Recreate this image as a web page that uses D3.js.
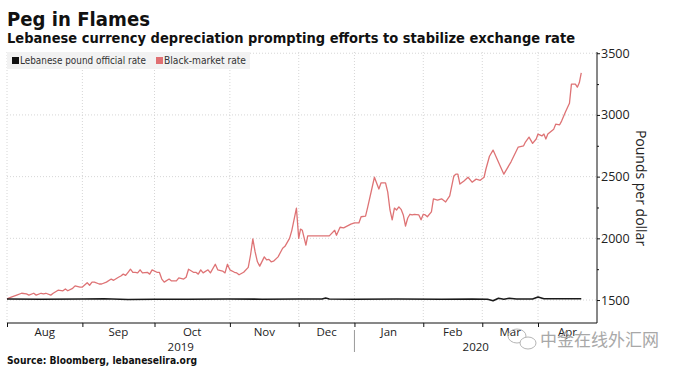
<!DOCTYPE html>
<html>
<head>
<meta charset="utf-8">
<script src="https://cdn.jsdelivr.net/npm/d3@7"></script>
<style>
  body { margin: 0; background: #fff; }
  svg { display: block; }
  .grid line { stroke: #d6d6d6; stroke-dasharray: 1,2; }
  .axis text { font-family: "Open Sans", "DejaVu Sans", sans-serif; fill: #222; }
</style>
</head>
<body>
<script>
var months = ["Aug", "Sep", "Oct", "Nov", "Dec", "Jan", "Feb", "Mar", "Apr"];
var monthStarts = ["2019-08-01", "2019-09-01", "2019-10-01", "2019-11-01", "2019-12-01",
  "2020-01-01", "2020-02-01", "2020-03-01", "2020-04-01", "2020-05-01"];
// observations per month (the chart is spaced by trading days)
var obsPerMonth = [23, 22, 23, 21, 17, 21, 18, 17, 18];
var years = ["2019", "2020"];
var yTicks = [1500, 2000, 2500, 3000, 3500];

var officialRate = [
  ["2019-08-01", 1508], ["2019-08-15", 1506], ["2019-09-01", 1509], ["2019-09-10", 1511],
  ["2019-09-20", 1504], ["2019-10-01", 1507], ["2019-10-15", 1507], ["2019-10-31", 1509],
  ["2019-11-15", 1507], ["2019-12-01", 1509], ["2019-12-14", 1508], ["2019-12-16", 1516],
  ["2019-12-18", 1508], ["2020-01-01", 1507], ["2020-01-20", 1509], ["2020-02-10", 1507],
  ["2020-02-25", 1509], ["2020-03-04", 1506], ["2020-03-07", 1494], ["2020-03-10", 1514],
  ["2020-03-13", 1507], ["2020-03-16", 1515], ["2020-03-20", 1509], ["2020-03-29", 1508],
  ["2020-04-01", 1524], ["2020-04-04", 1510], ["2020-04-23", 1510]
];

var blackMarket = [
  ["2019-08-01", 1510], ["2019-08-03", 1525], ["2019-08-05", 1540], ["2019-08-07", 1555],
  ["2019-08-09", 1550], ["2019-08-10", 1540], ["2019-08-12", 1555], ["2019-08-13", 1540],
  ["2019-08-15", 1555], ["2019-08-16", 1550], ["2019-08-17", 1555], ["2019-08-19", 1540],
  ["2019-08-20", 1555], ["2019-08-22", 1580], ["2019-08-24", 1575], ["2019-08-25", 1590],
  ["2019-08-26", 1575], ["2019-08-28", 1595], ["2019-08-29", 1615], ["2019-08-31", 1605],
  ["2019-09-01", 1605], ["2019-09-03", 1640], ["2019-09-04", 1620], ["2019-09-05", 1645],
  ["2019-09-06", 1645], ["2019-09-08", 1630], ["2019-09-09", 1630], ["2019-09-11", 1645],
  ["2019-09-13", 1670], ["2019-09-14", 1660], ["2019-09-16", 1685], ["2019-09-17", 1695],
  ["2019-09-18", 1710], ["2019-09-19", 1700], ["2019-09-20", 1725], ["2019-09-21", 1750],
  ["2019-09-22", 1725], ["2019-09-23", 1725], ["2019-09-24", 1720], ["2019-09-25", 1745],
  ["2019-09-26", 1720], ["2019-09-28", 1725], ["2019-09-29", 1710], ["2019-09-30", 1745],
  ["2019-10-02", 1725], ["2019-10-03", 1725], ["2019-10-04", 1670], ["2019-10-05", 1645],
  ["2019-10-07", 1670], ["2019-10-08", 1655], ["2019-10-10", 1655], ["2019-10-11", 1680],
  ["2019-10-13", 1670], ["2019-10-14", 1685], ["2019-10-15", 1750], ["2019-10-17", 1725],
  ["2019-10-18", 1725], ["2019-10-19", 1710], ["2019-10-20", 1745], ["2019-10-21", 1720],
  ["2019-10-23", 1745], ["2019-10-24", 1720], ["2019-10-26", 1790], ["2019-10-27", 1745],
  ["2019-10-29", 1735], ["2019-10-30", 1720], ["2019-10-31", 1790], ["2019-11-01", 1745],
  ["2019-11-03", 1725], ["2019-11-04", 1720], ["2019-11-05", 1705], ["2019-11-07", 1725],
  ["2019-11-09", 1765], ["2019-11-10", 1865], ["2019-11-11", 1995], ["2019-11-12", 1890],
  ["2019-11-13", 1810], ["2019-11-14", 1775], ["2019-11-16", 1850], ["2019-11-17", 1825],
  ["2019-11-18", 1830], ["2019-11-19", 1810], ["2019-11-20", 1815], ["2019-11-22", 1850],
  ["2019-11-24", 1920], ["2019-11-25", 1935], ["2019-11-27", 2000], ["2019-11-28", 2065],
  ["2019-11-30", 2245], ["2019-12-01", 2000], ["2019-12-02", 2075], ["2019-12-03", 2065],
  ["2019-12-05", 1945], ["2019-12-06", 2020], ["2019-12-08", 2020], ["2019-12-18", 2020],
  ["2019-12-21", 2065], ["2019-12-22", 2025], ["2019-12-24", 2090], ["2019-12-26", 2085],
  ["2019-12-30", 2115], ["2020-01-01", 2125], ["2020-01-03", 2125], ["2020-01-04", 2175],
  ["2020-01-06", 2180], ["2020-01-07", 2255], ["2020-01-10", 2495], ["2020-01-12", 2400],
  ["2020-01-13", 2450], ["2020-01-15", 2450], ["2020-01-16", 2375], ["2020-01-17", 2230],
  ["2020-01-18", 2150], ["2020-01-19", 2245], ["2020-01-20", 2230], ["2020-01-21", 2255],
  ["2020-01-22", 2235], ["2020-01-23", 2190], ["2020-01-24", 2100], ["2020-01-25", 2165],
  ["2020-01-26", 2195], ["2020-01-27", 2190], ["2020-01-28", 2195], ["2020-01-30", 2190],
  ["2020-01-31", 2150], ["2020-02-01", 2195], ["2020-02-02", 2190], ["2020-02-03", 2175],
  ["2020-02-05", 2215], ["2020-02-06", 2320], ["2020-02-08", 2310], ["2020-02-10", 2320],
  ["2020-02-12", 2295], ["2020-02-14", 2345], ["2020-02-16", 2505], ["2020-02-17", 2520],
  ["2020-02-18", 2520], ["2020-02-19", 2440], ["2020-02-21", 2465], ["2020-02-23", 2495],
  ["2020-02-25", 2455], ["2020-02-27", 2480], ["2020-02-29", 2470], ["2020-03-02", 2495],
  ["2020-03-03", 2560], ["2020-03-05", 2665], ["2020-03-07", 2715], ["2020-03-13", 2520],
  ["2020-03-17", 2620], ["2020-03-21", 2740], ["2020-03-24", 2750], ["2020-03-25", 2780],
  ["2020-03-27", 2820], ["2020-03-29", 2770], ["2020-03-31", 2805], ["2020-04-01", 2845],
  ["2020-04-03", 2830], ["2020-04-04", 2845], ["2020-04-05", 2805], ["2020-04-06", 2845],
  ["2020-04-09", 2885], ["2020-04-10", 2925], ["2020-04-12", 2920], ["2020-04-13", 2950],
  ["2020-04-15", 3025], ["2020-04-17", 3095], ["2020-04-18", 3250], ["2020-04-20", 3250],
  ["2020-04-21", 3225], ["2020-04-22", 3260], ["2020-04-23", 3340]
];

var W = 680, H = 368;
var margin = { top: 52, right: 83, bottom: 45, left: 7 },
  width = W - margin.left - margin.right,
  height = H - margin.top - margin.bottom;

var parseDate = d3.timeParse("%Y-%m-%d");
var bounds = monthStarts.map(parseDate);
var official = officialRate.map(function (d) { return { date: parseDate(d[0]), value: d[1] }; });
var black = blackMarket.map(function (d) { return { date: parseDate(d[0]), value: d[1] }; });

// piecewise time scale: each month gets room for its observations
var cum = [0];
obsPerMonth.forEach(function (n) { cum.push(cum[cum.length - 1] + n); });
var obsScale = d3.scaleLinear().domain([0, cum[cum.length - 1]]).range([0, width]);
var x = d3.scaleTime().domain(bounds).range(cum.map(obsScale));
var y = d3.scaleLinear().domain([1314, 3510]).range([height, 0]);

var svg = d3.select("body").append("svg")
  .attr("width", W)
  .attr("height", H);

// fit a text element into a given width by squeezing glyphs
function fit(sel, w) {
  var len = sel.node().getComputedTextLength();
  if (len > w) sel.attr("textLength", w).attr("lengthAdjust", "spacingAndGlyphs");
}

svg.append("text")
  .attr("x", 7).attr("y", 26)
  .style("font-family", "DejaVu Sans, sans-serif")
  .style("font-weight", "bold")
  .style("font-size", "19px")
  .style("fill", "#111")
  .text("Peg in Flames")
  .call(fit, 143);

svg.append("text")
  .attr("x", 7).attr("y", 43)
  .style("font-family", "DejaVu Sans, sans-serif")
  .style("font-weight", "bold")
  .style("font-size", "14px")
  .style("fill", "#111")
  .text("Lebanese currency depreciation prompting efforts to stabilize exchange rate")
  .call(fit, 568);

var g = svg.append("g")
  .attr("transform", "translate(" + margin.left + "," + margin.top + ")");

// grid
g.append("g").attr("class", "grid")
  .selectAll("line.h")
  .data(yTicks)
  .join("line")
  .attr("x1", 0).attr("x2", width)
  .attr("y1", function (d) { return y(d); })
  .attr("y2", function (d) { return y(d); });

g.append("g").attr("class", "grid")
  .selectAll("line.v")
  .data(bounds.slice(0, -1))
  .join("line")
  .attr("x1", function (d) { return x(d); })
  .attr("x2", function (d) { return x(d); })
  .attr("y1", 0).attr("y2", height);

// legend
var legend = g.append("g");
legend.append("rect")
  .attr("x", 0).attr("y", 0)
  .attr("width", 243).attr("height", 17)
  .attr("fill", "#f2f2f2");
var legendItems = [
  { label: "Lebanese pound official rate", color: "#111", x: 5, w: 126 },
  { label: "Black-market rate", color: "#e06f72", x: 149, w: 82 }
];
legendItems.forEach(function (d) {
  legend.append("rect")
    .attr("x", d.x).attr("y", 5)
    .attr("width", 7).attr("height", 7)
    .attr("fill", d.color);
  legend.append("text")
    .attr("x", d.x + 8).attr("y", 12)
    .style("font-family", "DejaVu Sans, sans-serif")
    .style("font-size", "10px")
    .style("fill", "#333")
    .text(d.label)
    .call(fit, d.w);
});

// lines
var line = d3.line()
  .x(function (d) { return x(d.date); })
  .y(function (d) { return y(d.value); });

g.append("path")
  .datum(black)
  .attr("fill", "none")
  .attr("stroke", "#de7375")
  .attr("stroke-width", 1.3)
  .attr("stroke-linejoin", "round")
  .attr("d", line);

g.append("path")
  .datum(official)
  .attr("fill", "none")
  .attr("stroke", "#1a1a1a")
  .attr("stroke-width", 1.6)
  .attr("stroke-linejoin", "round")
  .attr("d", line);

// y axis on the right
var yAxis = d3.axisRight(y)
  .tickValues(d3.range(1500, 3501, 250))
  .tickSize(3)
  .tickFormat(function (d) { return d % 500 === 0 ? d : ""; });

g.append("g")
  .attr("class", "axis")
  .attr("transform", "translate(" + width + ",0)")
  .call(yAxis)
  .call(function (s) {
    s.select(".domain").attr("stroke", "#111").attr("d", "M0,0V" + height);
    s.selectAll(".tick line").attr("stroke", "#111")
      .attr("x2", function (d) { return d % 500 === 0 ? 3 : 2; });
    s.selectAll(".tick text").attr("x", 4).style("font-size", "12.5px");
  });

svg.append("text")
  .attr("transform", "translate(636,188) rotate(90)")
  .attr("text-anchor", "middle")
  .style("font-family", "Open Sans, DejaVu Sans, sans-serif")
  .style("font-size", "14px")
  .style("fill", "#222")
  .text("Pounds per dollar");

// x axis: month boundaries as ticks, labels in the middle of each month
var xAxis = d3.axisBottom(x)
  .tickValues(bounds.slice(0, -1))
  .tickSize(4)
  .tickFormat("");

g.append("g")
  .attr("class", "axis")
  .attr("transform", "translate(0," + height + ")")
  .call(xAxis)
  .call(function (s) {
    s.select(".domain").attr("stroke", "#111").attr("d", "M0,0H" + width);
    s.selectAll(".tick line").attr("stroke", "#111");
  });

g.append("g")
  .attr("class", "axis")
  .selectAll("text")
  .data(months)
  .join("text")
  .attr("x", function (d, i) { return (x(bounds[i]) + x(bounds[i + 1])) / 2; })
  .attr("y", height + 13)
  .attr("text-anchor", "middle")
  .style("font-size", "11.5px")
  .text(function (d) { return d; });

var yearStart = parseDate("2020-01-01");
var yearSpans = [[bounds[0], yearStart], [yearStart, bounds[bounds.length - 1]]];
g.append("g")
  .attr("class", "axis")
  .selectAll("text")
  .data(years)
  .join("text")
  .attr("x", function (d, i) { return (x(yearSpans[i][0]) + x(yearSpans[i][1])) / 2; })
  .attr("y", height + 27.5)
  .attr("text-anchor", "middle")
  .style("font-size", "11.5px")
  .text(function (d) { return d; });

g.append("line")
  .attr("x1", x(yearStart)).attr("x2", x(yearStart))
  .attr("y1", height + 7).attr("y2", height + 29)
  .attr("stroke", "#999");

svg.append("text")
  .attr("x", 7).attr("y", 364)
  .style("font-family", "DejaVu Sans, sans-serif")
  .style("font-weight", "bold")
  .style("font-size", "10px")
  .style("fill", "#111")
  .text("Source: Bloomberg, lebaneselira.org")
  .call(fit, 190);

// watermark
var wm = svg.append("g").attr("fill", "none").attr("stroke", "#b5b5b5").attr("stroke-width", 1);
wm.append("ellipse").attr("cx", 517).attr("cy", 336).attr("rx", 9).attr("ry", 7);
wm.append("ellipse").attr("cx", 528).attr("cy", 343).attr("rx", 8).attr("ry", 6).attr("fill", "#fff");
svg.append("text")
  .attr("x", 540).attr("y", 346)
  .style("font-family", "Noto Sans CJK SC, sans-serif")
  .style("font-size", "17px")
  .style("fill", "#a8a8a8")
  .text("中金在线外汇网");
</script>
</body>
</html>
